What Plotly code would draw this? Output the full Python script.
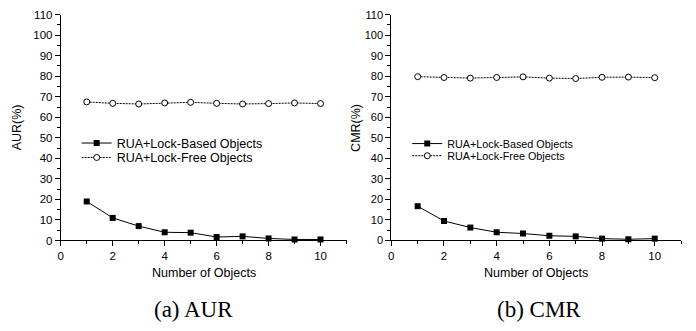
import plotly.graph_objects as go

x_objects = [1, 2, 3, 4, 5, 6, 7, 8, 9, 10]
aur_lock_based = [19.0, 11.0, 7.0, 4.0, 3.8, 1.7, 2.0, 1.0, 0.5, 0.5]
aur_lock_free = [67.5, 66.8, 66.5, 67.0, 67.3, 66.8, 66.5, 66.7, 67.0, 66.7]
cmr_lock_based = [16.7, 9.5, 6.3, 4.0, 3.4, 2.3, 2.0, 0.9, 0.6, 0.9]
cmr_lock_free = [79.8, 79.4, 79.1, 79.4, 79.7, 79.1, 78.9, 79.5, 79.6, 79.3]
name_based = "RUA+Lock-Based Objects"
name_free = "RUA+Lock-Free Objects"
x_title = "Number of Objects"
y_titles = ["AUR(%)", "CMR(%)"]
captions = ["(a) AUR", "(b) CMR"]

W, H = 696, 331
fig = go.Figure()

def px(v):
    return v / W

def py(v):
    return (H - v) / H

panels = [
    dict(based=aur_lock_based, free=aur_lock_free, xa="x", ya="y", lg=("legend", "legend2")),
    dict(based=cmr_lock_based, free=cmr_lock_free, xa="x2", ya="y2", lg=("legend3", "legend4")),
]
for p in panels:
    fig.add_trace(go.Scatter(
        x=x_objects, y=p["based"], name=name_based, mode="lines+markers",
        xaxis=p["xa"], yaxis=p["ya"], legend=p["lg"][0], cliponaxis=False,
        line=dict(color="black", width=1),
        marker=dict(symbol="square", size=6, color="black"),
    ))
    fig.add_trace(go.Scatter(
        x=x_objects, y=p["free"], name=name_free, mode="lines+markers",
        xaxis=p["xa"], yaxis=p["ya"], legend=p["lg"][1], cliponaxis=False,
        line=dict(color="black", width=1, dash="2px,1px"),
        marker=dict(symbol="circle", size=6, color="white", line=dict(color="black", width=1)),
    ))

font = "Liberation Sans, Arial, sans-serif"
common_x = dict(range=[0, 11], tickvals=[0, 2, 4, 6, 8, 10], showline=True, linecolor="black",
                linewidth=1, ticks="outside", ticklen=5, tickcolor="black", showgrid=False,
                zeroline=False, minor=dict(ticks="outside", ticklen=3, dtick=1, tick0=0, tickcolor="black"))
common_y = dict(range=[0, 110], dtick=10, tick0=0, showline=True, linecolor="black", linewidth=1,
                ticks="outside", ticklen=5, tickcolor="black", showgrid=False, zeroline=False,
                minor=dict(ticks="outside", ticklen=3, dtick=5, tick0=0, tickcolor="black"))

ydom = [py(243.3), py(9)]

def leg(xp, yp, size):
    return dict(x=px(xp), y=py(yp), xanchor="left", yanchor="top", bgcolor="rgba(0,0,0,0)",
                font=dict(size=size), itemwidth=30)

fig.update_layout(
    width=W, height=H, margin=dict(l=0, r=0, t=0, b=0),
    paper_bgcolor="white", plot_bgcolor="white",
    font=dict(family=font, color="black"),
    xaxis=dict(common_x, domain=[px(58), px(345)], anchor="y", tickfont=dict(size=11.5)),
    yaxis=dict(common_y, domain=ydom, anchor="x", tickfont=dict(size=11.5)),
    xaxis2=dict(common_x, domain=[px(390), px(681)], anchor="y2", tickfont=dict(size=11.5)),
    yaxis2=dict(common_y, domain=ydom, anchor="x2", tickfont=dict(size=11)),
    legend=leg(74, 127, 12.5),
    legend2=leg(74, 142, 12.5),
    legend3=leg(406, 127.7, 10.8),
    legend4=leg(406, 140.3, 10.8),
    showlegend=True,
)

annots = []
for cx, yt, ax_x, cap, capx in [(201.5, y_titles[0], 14, captions[0], 191), (535.5, y_titles[1], 355, captions[1], 538)]:
    annots.append(dict(text=x_title, x=px(cx), y=py(277), xref="paper", yref="paper",
                       showarrow=False, xanchor="center", yanchor="middle", font=dict(size=12.5)))
    annots.append(dict(text=yt, x=px(ax_x), y=py(126), xref="paper", yref="paper", textangle=-90,
                       showarrow=False, xanchor="center", yanchor="middle", font=dict(size=12.5)))
    annots.append(dict(text=cap, x=px(capx), y=py(315), xref="paper", yref="paper",
                       showarrow=False, xanchor="center", yanchor="middle",
                       font=dict(size=23, family="Liberation Serif, Times New Roman, serif")))
fig.update_layout(annotations=annots)

fig.write_html("out.html")
